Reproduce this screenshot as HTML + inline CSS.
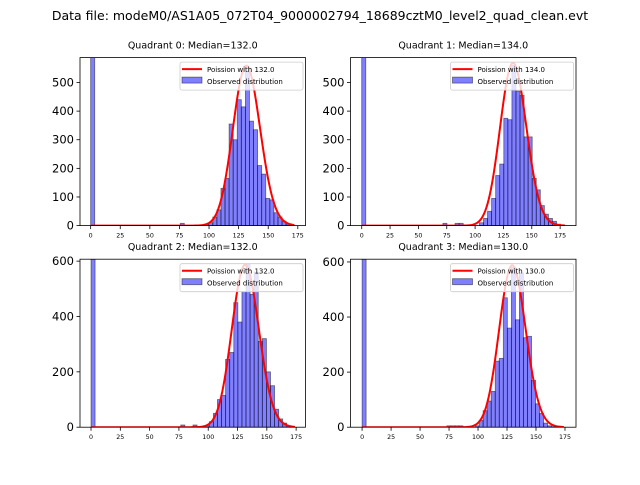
<!DOCTYPE html>
<html><head><meta charset="utf-8"><style>
body{margin:0;background:#fff}
svg text{font-family:"DejaVu Sans","Liberation Sans",sans-serif}
</style></head><body>
<svg id="fig" width="640" height="480" xmlns="http://www.w3.org/2000/svg">
<rect width="640" height="480" fill="#fff"/>
<text x="320" y="20" text-anchor="middle" font-size="12.5" fill="#000">Data file: modeM0/AS1A05_072T04_9000002794_18689cztM0_level2_quad_clean.evt</text>
</svg>
<script>
// ---- data ----
const quadNames = ["Quadrant 0","Quadrant 1","Quadrant 2","Quadrant 3"];
const medians = [132.0, 134.0, 132.0, 130.0];
const binWidths = [3.44, 3.58, 3.48, 3.48];
const curveScale = [16100, 16500, 16900, 16800];
const counts0 = {0:2000,22:8,28:5,29:10,30:30,31:55,32:130,33:165,34:355,35:300,36:440,37:415,38:540,39:365,40:335,41:210,42:180,43:95,44:90,45:45,46:30,47:15,48:5,49:2};
const counts1 = {0:2000,20:8,23:8,24:8,29:10,30:25,31:50,32:95,33:175,34:215,35:375,36:370,37:560,38:470,39:455,40:310,41:310,42:165,43:125,44:70,45:40,46:25,47:15,48:5,49:2};
const counts2 = {0:2000,22:8,25:8,28:5,29:20,30:50,31:100,32:115,33:245,34:270,35:450,36:380,37:490,38:590,39:480,40:560,41:310,42:320,43:200,44:150,45:65,46:30,47:15,48:5};
const counts3 = {0:2000,21:5,22:5,23:5,24:5,28:5,29:25,30:60,31:95,32:130,33:240,34:250,35:470,36:360,37:580,38:390,39:560,40:325,41:330,42:170,43:85,44:50,45:15,46:5,47:2};
const allCounts = [counts0, counts1, counts2, counts3];
const xDomains = [[-9,181.5],[-9.9,189],[-9.4,183],[-10,184.5]];
const yMaxes = [587, 587, 607, 610];
const yTicks0 = [0,100,200,300,400,500];
const yTicks1 = [0,200,400,600];
const xTicks = [0,25,50,75,100,125,150,175];

const NS="http://www.w3.org/2000/svg";
const fig=document.getElementById('fig');
function mk(tag,attrs,parent){const e=document.createElementNS(NS,tag);for(const k in attrs)e.setAttribute(k,attrs[k]);(parent||fig).appendChild(e);return e;}
function lgamma(n){let s=0;for(let i=2;i<=n;i++)s+=Math.log(i);return s;}
const boxes=[[80,57.6],[350.5,57.6],[80,259.2],[350.5,259.2]];
const W=225.5,H=168;
for(let q=0;q<4;q++){
  const [L,T]=boxes[q];
  const [x0,x1]=xDomains[q];const ymax=yMaxes[q];
  const sx=v=>L+(v-x0)/(x1-x0)*W;
  const sy=v=>T+H-v/ymax*H;
  const g=mk('g',{});
  
  
  const cp=mk('clipPath',{id:'cp'+q},g);mk('rect',{x:L,y:T,width:W,height:H},cp);
  const bars=mk('g',{'clip-path':'url(#cp'+q+')'},g);
  const c=allCounts[q];const bw=binWidths[q];
  for(const k in c){
    const i=+k;const v=c[k];
    const r=mk('rect',{x:sx(i*bw),y:sy(v),width:sx((i+1)*bw)-sx(i*bw),height:sy(0)-sy(v),fill:'rgba(0,0,255,0.5)',stroke:'rgba(0,0,0,0.5)','stroke-width':0.8},bars);
    
    
  }
  const lam=medians[q];let pts=[];
  const xmaxC=50*bw;
  for(let n=0;n<=Math.ceil(xmaxC);n++){
    const p=Math.exp(n*Math.log(lam)-lam-lgamma(n))*curveScale[q];
    pts.push(sx(n).toFixed(2)+','+sy(p).toFixed(2));
  }
  const pl=mk('polyline',{points:pts.join(' '),fill:'none',stroke:'#ff0000','stroke-width':2},bars);
  
  
  const fr=mk('rect',{x:L,y:T,width:W,height:H,fill:'none',stroke:'#000','stroke-width':0.8},g);
  
  
  xTicks.forEach(t=>{
    mk('line',{x1:sx(t),x2:sx(t),y1:T+H,y2:T+H+3.5,stroke:'#000','stroke-width':0.8},g);
    const tx=mk('text',{x:sx(t),y:T+H+12,'text-anchor':'middle','font-size':6.3},g);tx.textContent=t;
    
    
  });
  const yt=q<2?yTicks0:yTicks1;
  yt.forEach(t=>{
    mk('line',{x1:L-3.5,x2:L,y1:sy(t),y2:sy(t),stroke:'#000','stroke-width':0.8},g);
    const tx=mk('text',{x:L-6,y:sy(t)+4,'text-anchor':'end','font-size':11.5},g);tx.textContent=t;
    
    
  });
  const ti=mk('text',{x:L+W/2,y:T-9,'text-anchor':'middle','font-size':9.5},g);
  ti.textContent=quadNames[q]+': Median='+medians[q].toFixed(1);
  
  
  const lx=L+W-125.5, ly=T+4.5;
  const lg=mk('g',{},g);
  
  
  mk('rect',{x:lx,y:ly,width:123,height:28,rx:2,fill:'rgba(255,255,255,0.8)',stroke:'#ccc','stroke-width':0.8},lg);
  mk('line',{x1:lx+2,x2:lx+22,y1:ly+7,y2:ly+7,stroke:'#ff0000','stroke-width':2},lg);
  const t1=mk('text',{x:lx+27,y:ly+10,'font-size':7},lg);t1.textContent='Poission with '+medians[q].toFixed(1);
  
  
  mk('rect',{x:lx+2,y:ly+15,width:20,height:6,fill:'rgba(0,0,255,0.5)',stroke:'rgba(0,0,0,0.5)','stroke-width':0.8},lg);
  const t2=mk('text',{x:lx+27,y:ly+22,'font-size':7},lg);t2.textContent='Observed distribution';
  
  
}
</script>
</body></html>
